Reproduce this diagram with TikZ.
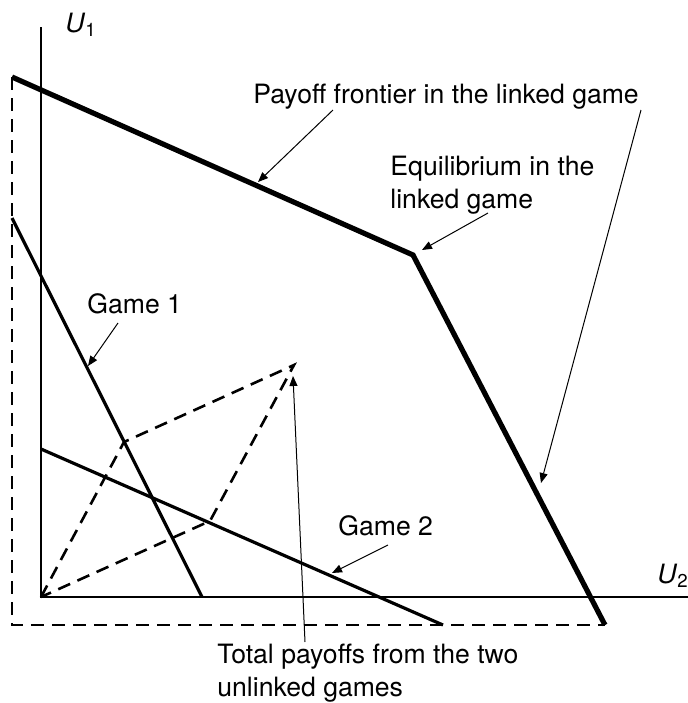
\documentclass[tikz,border=0pt]{standalone}
\usepackage{fontspec}
\setmainfont{TeX Gyre Heros}
\usetikzlibrary{arrows.meta}

\begin{document}
\begin{tikzpicture}[x=0.5pt, y=-0.5pt,
  axis/.style={line width=1.3pt},
  game/.style={line width=1.6pt},
  frontier/.style={line width=2.6pt},
  guide/.style={line width=1.3pt, dash pattern=on 6.5pt off 4pt},
  pointer/.style={line width=0.5pt, -{Triangle[length=5pt,width=4pt]}},
  lbl/.style={font=\fontsize{13.3}{16.5}\selectfont, inner sep=0pt, align=left}]
  \useasboundingbox (0,0) rectangle (687,703);
  % axes
  \coordinate (O) at (41,597);
  \coordinate (Ytop) at (41,27);
  \coordinate (Xend) at (690,597);
  \draw[axis] (Ytop) -- (O) -- (Xend);
  \node[lbl, anchor=base west] (u1) at (65,32) {\textit{U}\textsubscript{1}};
  \node[lbl, anchor=base west] (u2) at (657,583) {\textit{U}\textsubscript{2}};
  % linked frontier and its dashed frame
  \coordinate (F1) at (12,77);
  \coordinate (F2) at (413,255);
  \coordinate (F3) at (605,625);
  \coordinate (C) at (12,625);
  \draw[guide] (F1) -- (C) -- (F3);
  \draw[frontier] (F1) -- (F2) -- (F3);
  % the two games
  \coordinate (G1a) at (12,218);
  \coordinate (G1b) at (202,597);
  \coordinate (G2a) at (41,449);
  \coordinate (G2b) at (443,625);
  \draw[game] (G1a) -- (G1b);
  \draw[game] (G2a) -- (G2b);
  % sum of the unlinked payoffs
  \coordinate (A) at (124,442);
  \coordinate (B) at (210,521);
  \coordinate (S) at (294,365);
  \draw[guide] (O) -- (A) -- (S) -- (B) -- cycle;
  % labels
  \node[lbl, anchor=base west] (front) at (253,103) {Payoff frontier in the linked game};
  \node[lbl, anchor=north west] (equil) at (390,156) {Equilibrium in the\\linked game};
  \node[lbl, anchor=base west] (g1) at (87,313) {Game 1};
  \node[lbl, anchor=base west] (g2) at (338,535) {Game 2};
  \node[lbl, anchor=north west] (total) at (217,644) {Total payoffs from the two\\unlinked games};
  % pointers
  \coordinate (p1) at (333,110);
  \coordinate (q1) at (258,182);
  \coordinate (p2) at (641,110);
  \coordinate (q2) at (541,483);
  \coordinate (p3) at (488,213);
  \coordinate (q3) at (422,250);
  \coordinate (p4) at (118,323);
  \coordinate (q4) at (88,366);
  \coordinate (p5) at (388,545);
  \coordinate (q5) at (332,573);
  \coordinate (p6) at (305,642);
  \coordinate (q6) at (293,376);
  \foreach \i in {1,...,6}
    \draw[pointer] (p\i) -- (q\i);
\end{tikzpicture}
\end{document}
